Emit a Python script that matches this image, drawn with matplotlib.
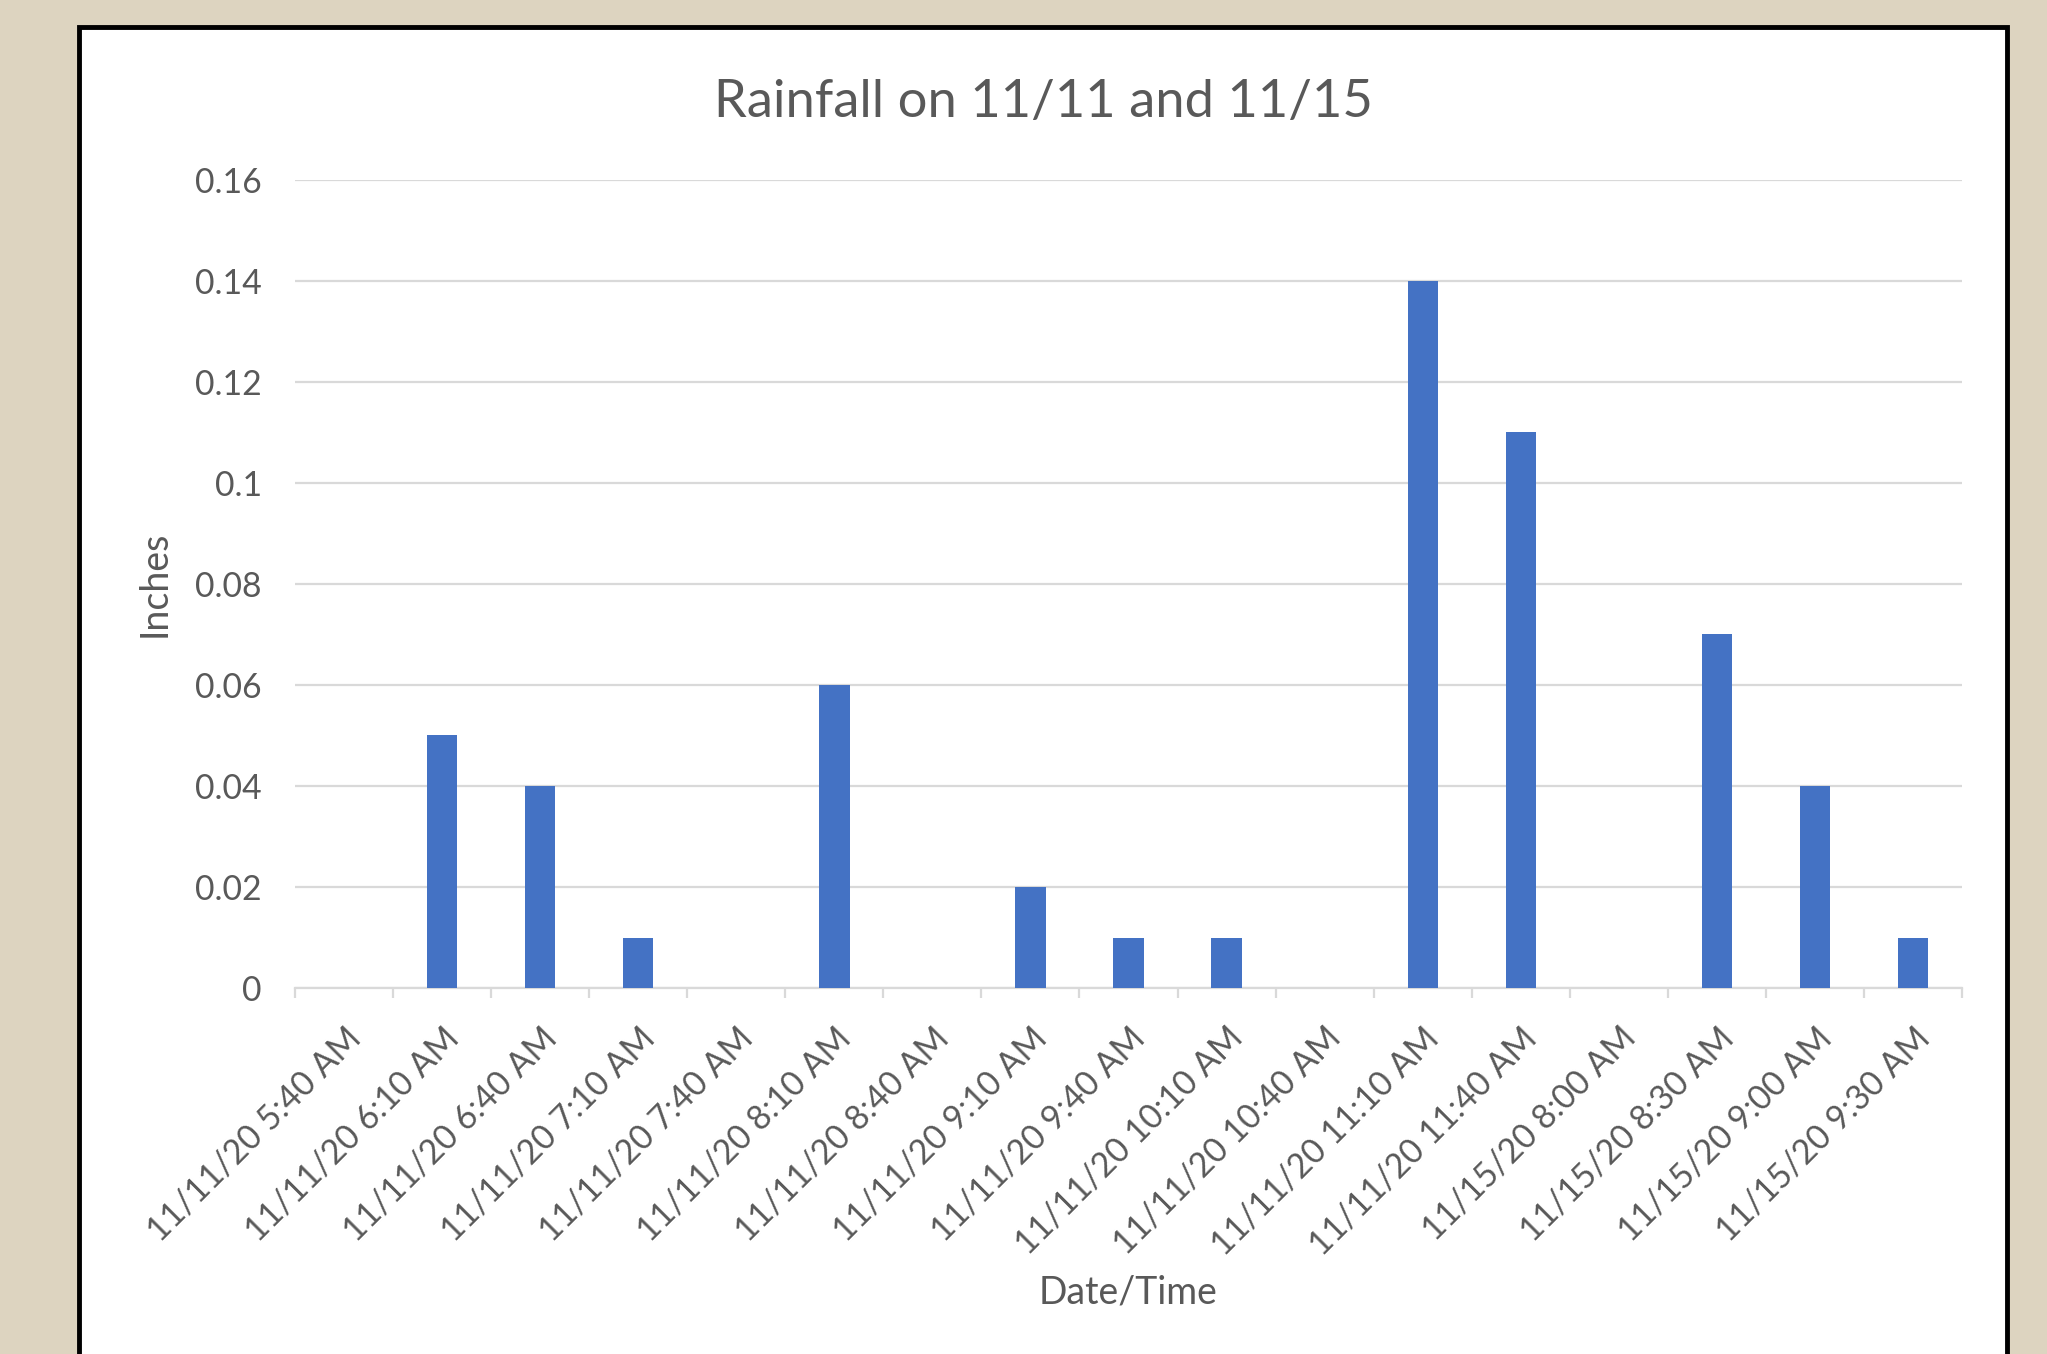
import matplotlib
matplotlib.use("Agg")
import matplotlib.pyplot as plt
from matplotlib.patches import Rectangle
import numpy as np

times = ["11/11/20 5:40 AM", "11/11/20 6:10 AM", "11/11/20 6:40 AM", "11/11/20 7:10 AM",
         "11/11/20 7:40 AM", "11/11/20 8:10 AM", "11/11/20 8:40 AM", "11/11/20 9:10 AM",
         "11/11/20 9:40 AM", "11/11/20 10:10 AM", "11/11/20 10:40 AM", "11/11/20 11:10 AM",
         "11/11/20 11:40 AM", "11/15/20 8:00 AM", "11/15/20 8:30 AM", "11/15/20 9:00 AM",
         "11/15/20 9:30 AM"]
rain = [0, 0.05, 0.04, 0.01, 0, 0.06, 0, 0.02, 0.01, 0.01, 0, 0.14, 0.11, 0, 0.07, 0.04, 0.01]
yticks = [0, 0.02, 0.04, 0.06, 0.08, 0.1, 0.12, 0.14, 0.16]
ytick_labels = ["0", "0.02", "0.04", "0.06", "0.08", "0.1", "0.12", "0.14", "0.16"]

plt.rcParams['font.family'] = ['Lato', 'DejaVu Sans']
txt = '#595959'
grid = '#D9D9D9'

fig = plt.figure(figsize=(20.47, 13.54), dpi=100)
fig.patch.set_facecolor('#DDD4C0')

# white chart panel with black frame
fig.patches.append(Rectangle((0.0386, -0.05), 0.942, 1.03, transform=fig.transFigure,
                             facecolor='white', edgecolor='black', linewidth=3.5, zorder=-5))

ax = fig.add_axes([0.1441, 0.2703, 0.8144, 0.5968])
ax.set_facecolor('white')
x = np.arange(len(times))
ax.bar(x, rain, width=0.31, color='#4472C4', zorder=3)

ax.set_xlim(-0.5, len(times) - 0.5)
ax.set_ylim(0, 0.16)
ax.set_yticks(yticks)
ax.set_yticklabels(ytick_labels)
ax.yaxis.grid(True, color=grid, linewidth=1.6, zorder=0)
ax.tick_params(axis='y', length=0, pad=24, labelsize=24.3, labelcolor=txt)

ax.set_xticks(np.arange(len(times) + 1) - 0.5)
ax.set_xticklabels([])
ax.tick_params(axis='x', which='major', length=7, width=1.6, color=grid)
ax.set_xticks(x, minor=True)
ax.set_xticklabels(times, minor=True, rotation=45, ha='right', va='top',
                   rotation_mode='anchor')
ax.tick_params(axis='x', which='minor', length=0, pad=24, labelsize=24.3, labelcolor=txt)

for s in ['top', 'right', 'left']:
    ax.spines[s].set_visible(False)
ax.spines['bottom'].set_color(grid)
ax.spines['bottom'].set_linewidth(1.6)

ax.set_ylabel("Inches", fontsize=27, color=txt)
ax.yaxis.set_label_coords(-0.0734, 0.5)
ax.set_xlabel("Date/Time", fontsize=27, color=txt)
ax.xaxis.set_label_coords(0.5, -0.355)

fig.text(0.5095, 0.9246, "Rainfall on 11/11 and 11/15", fontsize=37.8, color=txt,
         ha='center', va='center')

fig.savefig("out.png", dpi=100, facecolor=fig.get_facecolor())
